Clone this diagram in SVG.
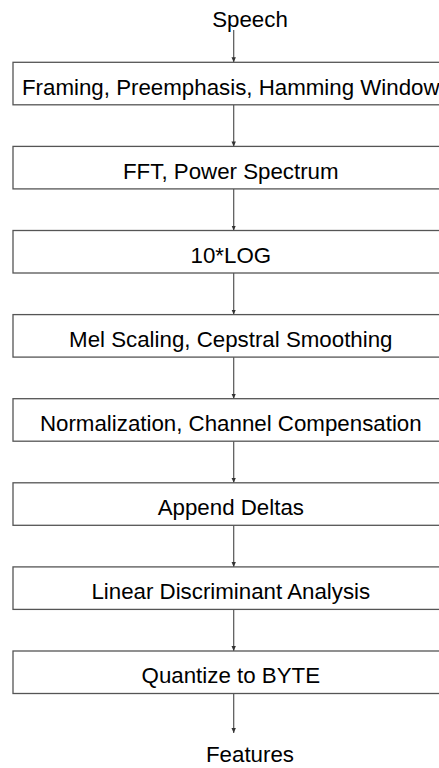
<svg xmlns="http://www.w3.org/2000/svg" width="439" height="768" viewBox="0 0 439 768">
<style>
.box{fill:#fff;stroke:#555;stroke-width:1.3}
.t{font-family:"Liberation Sans",Arial,sans-serif;font-size:22.3px;fill:#000;text-anchor:middle}
.c{stroke:#555;stroke-width:1.2;fill:none;marker-end:url(#ah)}
</style>
<defs>
<marker id="ah" markerWidth="6" markerHeight="6" refX="5" refY="3" orient="auto" markerUnits="userSpaceOnUse">
<path d="M0,0.8 L5,3 L0,5.2 Z" fill="#333"/>
</marker>
</defs>
<rect width="439" height="768" fill="#fff"/>
<g id="connectors">
<line class="c" x1="233.7" y1="30" x2="233.7" y2="62.3"/>
<line class="c" x1="233.7" y1="104.8" x2="233.7" y2="146.4"/>
<line class="c" x1="233.7" y1="188.9" x2="233.7" y2="230.5"/>
<line class="c" x1="233.7" y1="273" x2="233.7" y2="314.6"/>
<line class="c" x1="233.7" y1="357.1" x2="233.7" y2="398.7"/>
<line class="c" x1="233.7" y1="441.2" x2="233.7" y2="482.8"/>
<line class="c" x1="233.7" y1="525.3" x2="233.7" y2="566.9"/>
<line class="c" x1="233.7" y1="609.4" x2="233.7" y2="651"/>
<line class="c" x1="233.7" y1="693.5" x2="233.7" y2="733"/>
</g>
<g id="speech"><text class="t" x="250" y="27">Speech</text></g>
<g id="n1"><rect class="box" x="13" y="62.3" width="442" height="42.5"/><text class="t" x="230.8" y="94.8">Framing, Preemphasis, Hamming Window</text></g>
<g id="n2"><rect class="box" x="13" y="146.4" width="442" height="42.5"/><text class="t" x="230.8" y="178.7">FFT, Power Spectrum</text></g>
<g id="n3"><rect class="box" x="13" y="230.5" width="442" height="42.5"/><text class="t" x="230.8" y="262.8">10*LOG</text></g>
<g id="n4"><rect class="box" x="13" y="314.6" width="442" height="42.5"/><text class="t" x="230.8" y="346.9">Mel Scaling, Cepstral Smoothing</text></g>
<g id="n5"><rect class="box" x="13" y="398.7" width="442" height="42.5"/><text class="t" x="230.8" y="431">Normalization, Channel Compensation</text></g>
<g id="n6"><rect class="box" x="13" y="482.8" width="442" height="42.5"/><text class="t" x="230.8" y="515.1">Append Deltas</text></g>
<g id="n7"><rect class="box" x="13" y="566.9" width="442" height="42.5"/><text class="t" x="230.8" y="599.2">Linear Discriminant Analysis</text></g>
<g id="n8"><rect class="box" x="13" y="651" width="442" height="42.5"/><text class="t" x="230.8" y="683.3">Quantize to BYTE</text></g>
<g id="features"><text class="t" x="250" y="761.5">Features</text></g>
</svg>
